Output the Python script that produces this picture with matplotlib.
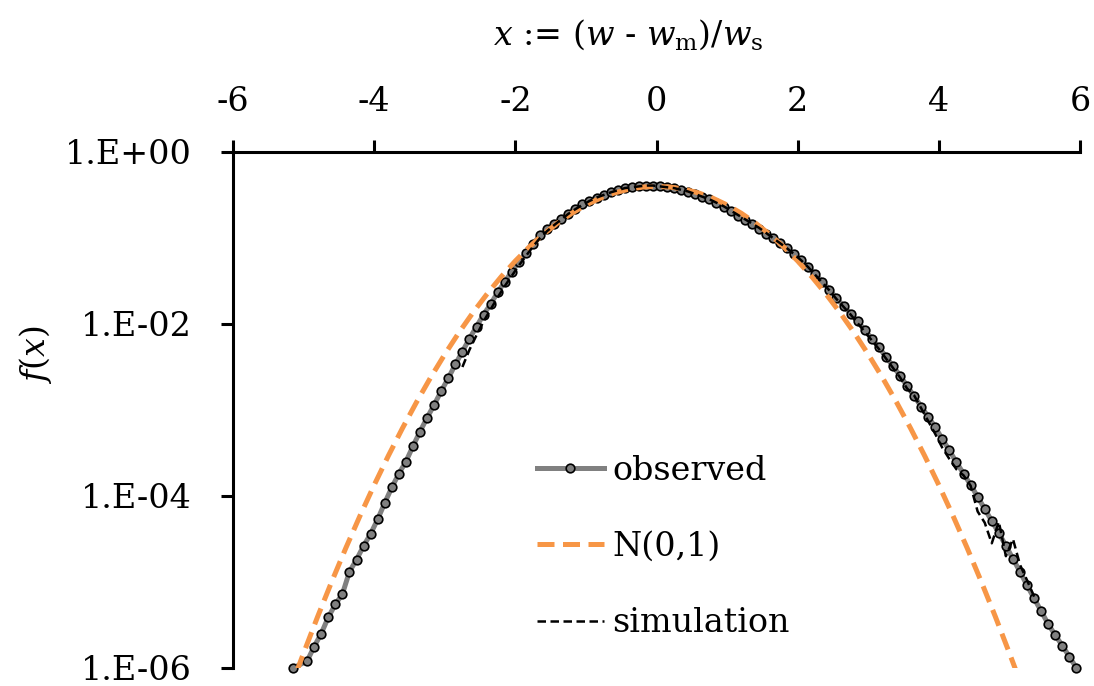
import numpy as np
import matplotlib
matplotlib.use("Agg")
import matplotlib.pyplot as plt

# ---------------- data (log10 f(x)) ----------------
obs_x = [-5.15, -4.95, -4.85, -4.75, -4.65, -4.55, -4.45, -4.35, -4.25, -4.15,
         -4.05, -3.95, -3.85, -3.75, -3.65, -3.55, -3.45, -3.35, -3.25, -3.15,
         -3.05, -2.95, -2.85, -2.75, -2.65, -2.55, -2.45, -2.35, -2.25, -2.15,
         -2.05, -1.95, -1.85, -1.75, -1.65, -1.55, -1.45, -1.35, -1.25, -1.15,
         -1.05, -0.95, -0.85, -0.75, -0.65, -0.55, -0.45, -0.35, -0.25, -0.15,
         -0.05, 0.05, 0.15, 0.25, 0.35, 0.45, 0.55, 0.65, 0.75, 0.85,
         0.95, 1.05, 1.15, 1.25, 1.35, 1.45, 1.55, 1.65, 1.75, 1.85,
         1.95, 2.05, 2.15, 2.25, 2.35, 2.45, 2.55, 2.65, 2.75, 2.85,
         2.95, 3.05, 3.15, 3.25, 3.35, 3.45, 3.55, 3.65, 3.75, 3.85,
         3.95, 4.05, 4.15, 4.25, 4.35, 4.45, 4.55, 4.65, 4.75, 4.85,
         4.95, 5.05, 5.15, 5.25, 5.35, 5.45, 5.55, 5.65, 5.75, 5.85, 5.95]
obs_log = [-6.00, -5.92, -5.75, -5.60, -5.41, -5.26, -5.14, -4.88, -4.74, -4.58,
           -4.44, -4.27, -4.08, -3.90, -3.74, -3.60, -3.42, -3.25, -3.09, -2.94,
           -2.78, -2.63, -2.47, -2.32, -2.17, -2.03, -1.89, -1.77, -1.63, -1.51,
           -1.39, -1.28, -1.17, -1.07, -0.97, -0.90, -0.84, -0.78, -0.72, -0.66,
           -0.61, -0.57, -0.53, -0.50, -0.47, -0.44, -0.42, -0.41, -0.40, -0.39,
           -0.39, -0.40, -0.41, -0.42, -0.44, -0.46, -0.49, -0.52, -0.55, -0.59,
           -0.64, -0.69, -0.74, -0.79, -0.84, -0.89, -0.95, -1.00, -1.06, -1.12,
           -1.19, -1.26, -1.34, -1.42, -1.51, -1.60, -1.70, -1.79, -1.88, -1.97,
           -2.07, -2.17, -2.27, -2.38, -2.49, -2.60, -2.72, -2.84, -2.96, -3.08,
           -3.20, -3.34, -3.47, -3.61, -3.74, -3.87, -4.01, -4.15, -4.29, -4.43,
           -4.58, -4.73, -4.88, -5.04, -5.19, -5.34, -5.49, -5.62, -5.74, -5.87, -6.00]

norm_x = [-5.1, -5.0, -4.8, -4.6, -4.4, -4.2, -4.0, -3.8, -3.6, -3.4, -3.2, -3.0,
          -2.8, -2.6, -2.4, -2.2, -2.0, -1.8, -1.6, -1.4, -1.2, -1.0, -0.8, -0.6,
          -0.4, -0.2, 0.0, 0.2, 0.4, 0.6, 0.8, 1.0, 1.2, 1.4, 1.6, 1.8,
          2.0, 2.2, 2.4, 2.6, 2.8, 3.0, 3.2, 3.4, 3.6, 3.8, 4.0, 4.2,
          4.4, 4.6, 4.8, 5.0, 5.1]
norm_log = [-6.046, -5.827, -5.401, -4.993, -4.602, -4.229, -3.873, -3.534, -3.213,
            -2.909, -2.622, -2.353, -2.101, -1.867, -1.650, -1.450, -1.267, -1.102,
            -0.955, -0.825, -0.712, -0.616, -0.538, -0.477, -0.434, -0.408, -0.399,
            -0.408, -0.434, -0.477, -0.538, -0.616, -0.712, -0.825, -0.955, -1.102,
            -1.267, -1.450, -1.650, -1.867, -2.101, -2.353, -2.622, -2.909, -3.213,
            -3.534, -3.873, -4.229, -4.602, -4.993, -5.401, -5.827, -6.046]

sim_x = [-2.75, -2.65, -2.55, -2.45, -2.35, -2.25, -2.15, -2.05, -1.95, -1.85,
         -1.75, -1.65, -1.55, -1.45, -1.35, -1.25, -1.15, -1.05, -0.95, -0.85,
         -0.75, -0.65, -0.55, -0.45, -0.35, -0.25, -0.15, -0.05, 0.05, 0.15,
         0.25, 0.35, 0.45, 0.55, 0.65, 0.75, 0.85, 0.95, 1.05, 1.15,
         1.25, 1.35, 1.45, 1.55, 1.65, 1.75, 1.85, 1.95, 2.05, 2.15,
         2.25, 2.35, 2.45, 2.55, 2.65, 2.75, 2.85, 2.95, 3.05, 3.15,
         3.25, 3.35, 3.45, 3.55, 3.65, 3.75, 3.85, 3.95, 4.05, 4.15,
         4.25, 4.35, 4.45, 4.55, 4.65, 4.75, 4.85, 4.95, 5.05, 5.15,
         5.25, 5.35]
sim_log = [-2.50, -2.30, -2.13, -1.97, -1.83, -1.69, -1.56, -1.44, -1.32, -1.21,
           -1.10, -1.00, -0.92, -0.85, -0.785, -0.72, -0.665, -0.615, -0.57, -0.53,
           -0.50, -0.47, -0.445, -0.42, -0.41, -0.40, -0.39, -0.39, -0.40, -0.41,
           -0.42, -0.44, -0.46, -0.49, -0.52, -0.55, -0.59, -0.63, -0.68, -0.73,
           -0.78, -0.83, -0.88, -0.94, -1.00, -1.06, -1.12, -1.19, -1.26, -1.34,
           -1.43, -1.52, -1.61, -1.71, -1.80, -1.89, -1.99, -2.09, -2.19, -2.29,
           -2.40, -2.51, -2.62, -2.75, -2.83, -2.98, -3.13, -3.28, -3.44, -3.57,
           -3.69, -3.76, -3.88, -4.18, -4.31, -4.55, -4.30, -4.70, -4.50, -4.80,
           -4.98, -5.17]

y_ticks = [1e0, 1e-2, 1e-4, 1e-6]
y_ticklabels = ["1.E+00", "1.E-02", "1.E-04", "1.E-06"]
x_ticks = [-6, -4, -2, 0, 2, 4, 6]

# ---------------- style ----------------
plt.rcParams["font.family"] = ["DejaVu Serif"]
plt.rcParams["mathtext.fontset"] = "dejavuserif"
FS = 24

fig = plt.figure(figsize=(10.94, 6.86), dpi=100)
ax = fig.add_axes([233 / 1094, 1 - 668 / 686, (1080 - 233) / 1094, (668 - 152) / 686])

obs_y = 10 ** np.array(obs_log)
norm_y = 10 ** np.array(norm_log)
sim_y = 10 ** np.array(sim_log)

ax.plot(obs_x, obs_y, color="#808080", lw=3.6, marker="o", ms=6.2,
        mfc="#808080", mec="black", mew=1.2, label="observed", clip_on=False, zorder=2)
ax.plot(norm_x, norm_y, color="#F79646", lw=3.6, ls=(0, (3.4, 1.7)),
        label="N(0,1)", zorder=3)
ax.plot(sim_x, sim_y, color="black", lw=1.8, ls=(0, (3.4, 1.8)),
        label="simulation", zorder=4)

ax.set_yscale("log")
ax.set_xlim(-6, 6)
ax.set_ylim(1e-6, 1e0)
ax.set_yticks(y_ticks)
ax.set_yticklabels(y_ticklabels)
ax.yaxis.set_minor_locator(matplotlib.ticker.NullLocator())
ax.set_xticks(x_ticks)
ax.set_xticklabels([str(v) for v in x_ticks])

ax.xaxis.tick_top()
for s in ["bottom", "right"]:
    ax.spines[s].set_visible(False)
for s in ["top", "left"]:
    ax.spines[s].set_linewidth(2.2)

ax.tick_params(axis="x", which="major", direction="out", length=8.5, width=2.2,
               labelsize=FS, pad=16)
ax.tick_params(axis="y", which="major", direction="out", length=8.5, width=2.2,
               labelsize=FS, pad=21)

fig.text(628 / 1094, 1 - 35 / 686, r"$x$ := ($w$ - $w_{\mathrm{m}}$)/$w_{\mathrm{s}}$",
         fontsize=FS, ha="center", va="center")
fig.text(35 / 1094, 1 - 355 / 686, r"$f$($x$)", fontsize=FS, rotation=90,
         ha="center", va="center")

leg = ax.legend(loc="center left", bbox_to_anchor=(537 / 1094, 1 - 547 / 686),
                bbox_transform=fig.transFigure, frameon=False, fontsize=FS,
                borderpad=0, borderaxespad=0, handlelength=2.0, handletextpad=0.25,
                labelspacing=1.33, numpoints=1)

fig.savefig("out.png", dpi=100)
